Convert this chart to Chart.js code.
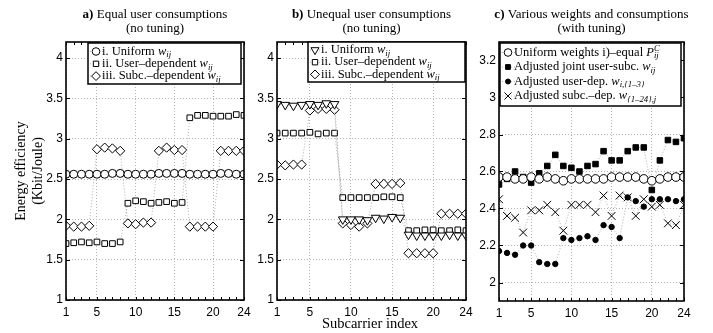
<!DOCTYPE html>
<html>
<head>
<meta charset="utf-8">
<script src="https://cdn.jsdelivr.net/npm/chart.js@4/dist/chart.umd.min.js"></script>
<style>
  body { margin: 0; background: #fff; width: 713px; height: 333px; overflow: hidden; position: relative; }
  canvas { position: absolute; top: 0; }
</style>
</head>
<body>
<canvas id="chartA" width="252" height="333" style="left:0px"></canvas>
<canvas id="chartB" width="222" height="333" style="left:252px"></canvas>
<canvas id="chartC" width="239" height="333" style="left:474px"></canvas>
<script>
'use strict';

var subcarriers = [1,2,3,4,5,6,7,8,9,10,11,12,13,14,15,16,17,18,19,20,21,22,23,24];
var xTicks = [1, 5, 10, 15, 20, 24];
var yTicksAB = [1, 1.5, 2, 2.5, 3, 3.5, 4];
var yTicksC = [2, 2.2, 2.4, 2.6, 2.8, 3, 3.2];

// a) equal user consumptions
var aUniform = [2.56,2.56,2.56,2.56,2.56,2.56,2.57,2.57,2.56,2.56,2.56,2.56,2.57,2.57,2.57,2.57,2.56,2.56,2.56,2.56,2.57,2.57,2.56,2.56];
var aUserDep = [1.70,1.71,1.72,1.71,1.72,1.70,1.70,1.72,2.20,2.23,2.22,2.20,2.21,2.22,2.20,2.21,3.26,3.29,3.29,3.28,3.28,3.28,3.30,3.29];
var aSubcDep = [1.92,1.91,1.91,1.92,2.87,2.89,2.88,2.85,1.95,1.94,1.96,1.96,2.85,2.89,2.86,2.86,1.91,1.91,1.91,1.91,2.85,2.85,2.85,2.85];

// b) unequal user consumptions
var bUniform = [3.43,3.42,3.41,3.42,3.43,3.42,3.44,3.43,2.00,2.00,2.00,1.99,2.02,2.01,2.03,2.02,1.81,1.80,1.80,1.80,1.80,1.81,1.80,1.80];
var bUserDep = [3.07,3.07,3.07,3.07,3.08,3.06,3.07,3.07,2.27,2.27,2.27,2.27,2.27,2.28,2.28,2.27,1.86,1.86,1.87,1.87,1.86,1.86,1.87,1.86];
var bSubcDep = [2.68,2.67,2.68,2.68,3.35,3.37,3.37,3.36,1.95,1.93,1.91,1.95,2.44,2.44,2.44,2.45,1.58,1.58,1.58,1.58,2.07,2.07,2.07,2.07];

// c) various weights and consumptions (with tuning)
var cUniform = [2.57,2.57,2.56,2.56,2.57,2.56,2.57,2.56,2.55,2.56,2.56,2.56,2.56,2.56,2.57,2.57,2.57,2.57,2.56,2.55,2.56,2.57,2.57,2.57];
var cJoint = [2.53,2.56,2.60,2.57,2.54,2.59,2.63,2.69,2.63,2.62,2.60,2.63,2.64,2.71,2.66,2.66,2.71,2.73,2.73,2.50,2.66,2.77,2.76,2.78];
var cUserAdj = [2.17,2.16,2.15,2.20,2.20,2.11,2.10,2.10,2.24,2.23,2.24,2.25,2.23,2.31,2.30,2.24,2.46,2.44,2.41,2.45,2.45,2.45,2.44,2.45];
var cSubcAdj = [2.45,2.36,2.35,2.27,2.39,2.39,2.42,2.38,2.28,2.42,2.42,2.42,2.38,2.47,2.36,2.47,2.46,2.36,2.45,2.41,2.42,2.32,2.31,2.42];

var SERIF = '"Liberation Serif", "Times New Roman", serif';
var SANS = '"Liberation Sans", Arial, sans-serif';

// draws text made of parts [text, style]; style letters: b bold, i italic, s sub, p sup, k keep x
function rich(ctx, x, y, parts, size, dry) {
  ctx.textBaseline = 'middle';
  ctx.textAlign = 'left';
  parts.forEach(function(p) {
    var st = p[1] || '', fs = size, dy = 0, f = '';
    if (st.indexOf('b') >= 0) f += 'bold ';
    if (st.indexOf('i') >= 0) f += 'italic ';
    if (st.indexOf('s') >= 0) { fs = size * 0.7; dy = size * 0.28; }
    if (st.indexOf('p') >= 0) { fs = size * 0.7; dy = -size * 0.32; }
    ctx.font = f + fs + 'px ' + SERIF;
    if (!dry) ctx.fillText(p[0], x, y + dy);
    if (st.indexOf('k') < 0) x += ctx.measureText(p[0]).width;
  });
  return x;
}

function marker(ctx, style, x, y, r, fill) {
  ctx.beginPath();
  if (style === 'circle') {
    ctx.arc(x, y, r, 0, Math.PI * 2);
  } else if (style === 'rect') {
    var s = r * Math.SQRT1_2;
    ctx.rect(x - s, y - s, 2 * s, 2 * s);
  } else if (style === 'rectRot') {
    ctx.moveTo(x - r, y); ctx.lineTo(x, y - r); ctx.lineTo(x + r, y); ctx.lineTo(x, y + r); ctx.closePath();
  } else if (style === 'triangle') {
    var w = r * Math.sqrt(3) / 2;
    ctx.moveTo(x - w, y - r / 2); ctx.lineTo(x + w, y - r / 2); ctx.lineTo(x, y + r); ctx.closePath();
  } else if (style === 'crossRot') {
    var d = r * Math.SQRT1_2;
    ctx.moveTo(x - d, y - d); ctx.lineTo(x + d, y + d);
    ctx.moveTo(x + d, y - d); ctx.lineTo(x - d, y + d);
  }
  if (style !== 'crossRot') { ctx.fillStyle = fill; ctx.fill(); }
  ctx.strokeStyle = '#000'; ctx.lineWidth = 1; ctx.stroke();
}

var decoPlugin = {
  id: 'deco',
  afterDraw: function(chart, args, o) {
    var ctx = chart.ctx, a = chart.chartArea, xs = chart.scales.x, ys = chart.scales.y;
    ctx.save();
    // little inner ticks, matlab style
    ctx.strokeStyle = '#000';
    ctx.lineWidth = 1;
    ctx.beginPath();
    subcarriers.forEach(function(v) {
      var px = Math.round(xs.getPixelForValue(v)) + 0.5;
      ctx.moveTo(px, a.bottom); ctx.lineTo(px, a.bottom - 3);
      ctx.moveTo(px, a.top); ctx.lineTo(px, a.top + 3);
    });
    o.yTicks.forEach(function(v) {
      var py = Math.round(ys.getPixelForValue(v)) + 0.5;
      ctx.moveTo(a.left, py); ctx.lineTo(a.left + 4, py);
      ctx.moveTo(a.right, py); ctx.lineTo(a.right - 4, py);
    });
    ctx.stroke();
    ctx.lineWidth = 1.6;
    ctx.strokeRect(a.left, a.top, a.right - a.left, a.bottom - a.top);

    // title, two lines centred on the plot
    ctx.fillStyle = '#000';
    var cx = (a.left + a.right) / 2;
    o.title.forEach(function(line, i) {
      var w = rich(ctx, 0, 0, line, 13, true);
      rich(ctx, cx - w / 2, 15 + i * 14, line, 13);
    });

    // legend box
    var L = o.legend;
    ctx.fillStyle = '#fff';
    ctx.fillRect(L.x, L.y, L.w, L.h);
    ctx.lineWidth = 1.5;
    ctx.strokeStyle = '#000';
    ctx.strokeRect(L.x, L.y, L.w, L.h);
    L.items.forEach(function(it, i) {
      var yy = L.y + L.first + i * L.step;
      ctx.save();
      ctx.setLineDash([1, 2]);
      ctx.strokeStyle = '#999';
      ctx.lineWidth = 0.8;
      ctx.beginPath();
      ctx.moveTo(L.x + 2, yy); ctx.lineTo(L.x + L.mx + 7, yy);
      ctx.stroke();
      ctx.restore();
      marker(ctx, it.style, L.x + L.mx, yy, it.r, it.fill);
      ctx.fillStyle = '#000';
      rich(ctx, L.x + L.mx + 6, yy, it.text, 12.5);
    });

    if (o.extra) o.extra(ctx, a);
    ctx.restore();
  }
};

function makeSeries(values, style, r, fill, rot) {
  return {
    data: subcarriers.map(function(x, i) { return { x: x, y: values[i] }; }),
    showLine: true,
    borderColor: '#9a9a9a',
    borderWidth: 0.8,
    borderDash: [1, 2],
    pointStyle: style,
    pointRadius: r,
    pointHoverRadius: r,
    pointRotation: rot || 0,
    pointBackgroundColor: fill,
    pointBorderColor: '#000',
    pointBorderWidth: 1
  };
}

function makeChart(id, datasets, yMin, yMax, yTicks, yWidth, padRight, xHeight, yFmt, deco) {
  deco.yTicks = yTicks;
  return new Chart(document.getElementById(id), {
    type: 'scatter',
    data: { datasets: datasets },
    plugins: [decoPlugin],
    options: {
      responsive: false,
      animation: false,
      events: [],
      layout: { padding: { top: 42, right: padRight, left: 0, bottom: 0 } },
      plugins: { legend: { display: false }, tooltip: { enabled: false }, deco: deco },
      scales: {
        x: {
          type: 'linear', min: 1, max: 24,
          afterBuildTicks: function(s) { s.ticks = xTicks.map(function(v) { return { value: v }; }); },
          afterFit: function(s) { s.height = xHeight; s.paddingLeft = 0; s.paddingRight = 0; },
          grid: { color: '#b4b4b4', lineWidth: 1, drawTicks: false },
          border: { display: false, dash: [1, 2] },
          ticks: { color: '#000', padding: 5, font: { family: SANS, size: 12 }, maxRotation: 0, autoSkip: false }
        },
        y: {
          min: yMin, max: yMax,
          afterBuildTicks: function(s) { s.ticks = yTicks.map(function(v) { return { value: v }; }); },
          afterFit: function(s) { s.width = yWidth; s.paddingTop = 0; s.paddingBottom = 0; },
          grid: { color: '#b4b4b4', lineWidth: 1, drawTicks: false },
          border: { display: false, dash: [1, 2] },
          ticks: { color: '#000', padding: 3, font: { family: SANS, size: 12 }, autoSkip: false, callback: yFmt }
        }
      }
    }
  });
}

function fmt(v) { return String(Math.round(v * 10) / 10); }

var wij = [['w', 'i'], ['ij', 'is']];

makeChart('chartA', [
  makeSeries(aUniform, 'circle', 4, '#fff'),
  makeSeries(aUserDep, 'rect', 4, '#fff'),
  makeSeries(aSubcDep, 'rectRot', 4.6, '#fff')
], 1, 4.2, yTicksAB, 66, 8, 33, fmt, {
  title: [[['a)', 'b'], [' Equal user consumptions', '']], [['(no tuning)', '']]],
  legend: { x: 88, y: 43, w: 153, h: 41, first: 8.5, step: 12.3, mx: 8, items: [
    { style: 'circle', r: 3.8, fill: '#fff', text: [['i. Uniform ', '']].concat(wij) },
    { style: 'rect', r: 3.8, fill: '#fff', text: [['ii. User\u2013dependent ', '']].concat(wij) },
    { style: 'rectRot', r: 4.4, fill: '#fff', text: [['iii. Subc.\u2013dependent ', '']].concat(wij) }
  ] },
  extra: function(ctx, a) {
    ctx.fillStyle = '#000';
    ctx.textAlign = 'center';
    ctx.textBaseline = 'middle';
    ctx.font = '14px ' + SERIF;
    ctx.save();
    ctx.translate(21, 171);
    ctx.rotate(-Math.PI / 2);
    ctx.fillText('Energy efficiency', 0, 0);
    ctx.restore();
    ctx.save();
    ctx.translate(38, 171);
    ctx.rotate(-Math.PI / 2);
    ctx.fillText('(Kbit/Joule)', 0, 0);
    ctx.restore();
  }
});

makeChart('chartB', [
  makeSeries(bUniform, 'triangle', 5, '#fff', 180),
  makeSeries(bUserDep, 'rect', 4, '#fff'),
  makeSeries(bSubcDep, 'rectRot', 4.6, '#fff')
], 1, 4.2, yTicksAB, 25, 8, 33, fmt, {
  title: [[['b)', 'b'], [' Unequal user consumptions', '']], [['(no tuning)', '']]],
  legend: { x: 56, y: 42, w: 157, h: 40, first: 8, step: 12.2, mx: 7, items: [
    { style: 'triangle', r: 4.6, fill: '#fff', text: [['i. Uniform ', '']].concat(wij) },
    { style: 'rect', r: 3.8, fill: '#fff', text: [['ii. User\u2013dependent ', '']].concat(wij) },
    { style: 'rectRot', r: 4.4, fill: '#fff', text: [['iii. Subc.\u2013dependent ', '']].concat(wij) }
  ] },
  extra: function(ctx, a) {
    ctx.fillStyle = '#000';
    ctx.textAlign = 'center';
    ctx.textBaseline = 'middle';
    ctx.font = '14.5px ' + SERIF;
    ctx.fillText('Subcarrier index', 370 - 252, 324);
  }
});

makeChart('chartC', [
  makeSeries(cUniform, 'circle', 4.3, '#fff'),
  makeSeries(cJoint, 'rect', 3.9, '#000'),
  makeSeries(cUserAdj, 'circle', 2.7, '#000'),
  makeSeries(cSubcAdj, 'crossRot', 5.5, '#fff')
], 1.9, 3.3, yTicksC, 25, 29, 32, function(v) { return String(Math.round(v * 10) / 10); }, {
  title: [[['c)', 'b'], [' Various weights and consumptions', '']], [['(with tuning)', '']]],
  legend: { x: 26, y: 43, w: 181, h: 63, first: 9.5, step: 14.5, mx: 8, items: [
    { style: 'circle', r: 3.8, fill: '#fff', text: [['Uniform weights i)\u2013equal ', ''], ['P', 'i'], ['C', 'ipk'], ['ij', 'is']] },
    { style: 'rect', r: 3.4, fill: '#000', text: [['Adjusted joint user-subc. ', '']].concat(wij) },
    { style: 'circle', r: 2.5, fill: '#000', text: [['Adjusted user-dep. ', ''], ['w', 'i'], ['i,{1\u20133}', 'is']] },
    { style: 'crossRot', r: 5, fill: '#fff', text: [['Adjusted subc.\u2013dep. ', ''], ['w', 'i'], ['{1\u201324},j', 'is']] }
  ] }
});
</script>
</body>
</html>
